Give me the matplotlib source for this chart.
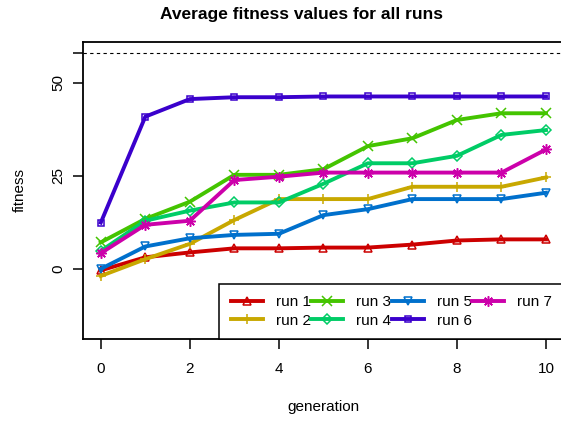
import matplotlib.pyplot as plt
import numpy as np

plt.rcParams['font.family'] = ['Liberation Sans', 'DejaVu Sans']

# values
generations = list(range(11))
run_names = ["run 1", "run 2", "run 3", "run 4", "run 5", "run 6", "run 7"]
run1 = [-0.3, 3.2, 4.5, 5.6, 5.6, 5.8, 5.8, 6.6, 7.7, 8.0, 8.0]
run2 = [-1.8, 2.7, 6.8, 13.2, 18.8, 18.8, 18.8, 22.1, 22.1, 22.1, 24.6]
run3 = [7.2, 13.5, 18.1, 25.3, 25.3, 26.8, 33.0, 35.1, 40.0, 41.8, 41.8]
run4 = [4.9, 13.0, 15.7, 17.9, 17.9, 22.9, 28.4, 28.4, 30.4, 36.0, 37.3]
run5 = [0.1, 6.1, 8.3, 9.2, 9.5, 14.5, 16.1, 18.8, 18.8, 18.8, 20.5]
run6 = [12.5, 40.9, 45.6, 46.1, 46.1, 46.3, 46.3, 46.3, 46.3, 46.3, 46.3]
run7 = [4.3, 11.9, 13.0, 23.9, 24.8, 25.9, 25.9, 25.9, 25.9, 25.9, 32.1]
max_fitness = 58
y_ticks = [0, 25, 50]

runs = [run1, run2, run3, run4, run5, run6, run7]
colors = ["#CC0000", "#C8A800", "#44C400", "#00CC66", "#0070CC", "#3A00CC", "#CC00AA"]
markers = ["^", "+", "x", "D", "v", "s", (8, 2, 0)]
msizes = [6, 7.5, 6.5, 5, 6, 5, 7.5]

fig = plt.figure(figsize=(5.61, 4.22), dpi=100)
ax = fig.add_axes([83 / 561, 1 - 339 / 422, 480.8 / 561, 297 / 422])

for vals, name, c, m, ms in zip(runs, run_names, colors, markers, msizes):
    ax.plot(generations, vals, color=c, lw=2.8, marker=m, ms=ms,
            mfc="none", mec=c, mew=1.1, label=name)

ax.axhline(max_fitness, color="black", lw=0.8, ls=(0, (3, 3)))

ax.set_xlim(-0.4, 10.4)
ax.set_ylim(-18.7, 60.9)
ax.set_xticks([0, 2, 4, 6, 8, 10])
ax.set_yticks(y_ticks + [max_fitness])
ax.set_yticklabels([str(t) for t in y_ticks] + [""])
ax.tick_params(axis="both", direction="out", length=7.2, width=1.1,
               labelsize=11)
ax.tick_params(axis="x", pad=9.5)
ax.tick_params(axis="y", labelrotation=90, pad=5.5)
for lab in ax.get_yticklabels():
    lab.set_va("center")
for s in ax.spines.values():
    s.set_linewidth(1.3)

ax.set_xlabel("generation", fontsize=11)
ax.xaxis.set_label_coords(0.5, -0.205)
ax.set_ylabel("fitness", fontsize=11)
ax.yaxis.set_label_coords(-0.117, 0.5)

fig.text(302 / 561, 1 - 14 / 422, "Average fitness values for all runs",
         ha="center", va="center", fontsize=12.5, fontweight="bold")

leg = ax.legend(ncol=4, loc="lower left", bbox_to_anchor=(0.283, 0, 0.717, 0.19),
                mode="expand", borderaxespad=0, fontsize=11, handlelength=2.1,
                handletextpad=0.85, labelspacing=0.27, borderpad=0.75,
                fancybox=False, framealpha=1, edgecolor="black")
leg.get_frame().set_linewidth(1.1)

fig.savefig("out.png", dpi=100)
